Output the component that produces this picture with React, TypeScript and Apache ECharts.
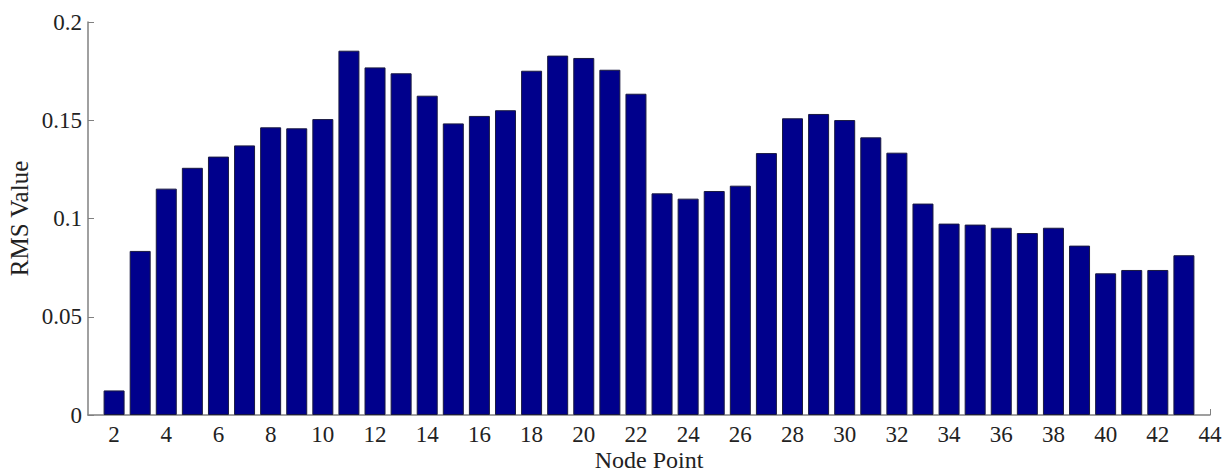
import React, { useEffect, useRef } from "react";
import * as echarts from "echarts";

const nodes = [2, 3, 4, 5, 6, 7, 8, 9, 10, 11, 12, 13, 14, 15, 16, 17, 18, 19, 20, 21, 22, 23, 24, 25, 26, 27, 28, 29, 30, 31, 32, 33, 34, 35, 36, 37, 38, 39, 40, 41, 42, 43];
const rmsValues = [0.0125, 0.0835, 0.1152, 0.1258, 0.1315, 0.1372, 0.1464, 0.1459, 0.1506, 0.1854, 0.1769, 0.1739, 0.1625, 0.1484, 0.1522, 0.1551, 0.1752, 0.1829, 0.1817, 0.1757, 0.1635, 0.1128, 0.1101, 0.114, 0.1167, 0.1333, 0.151, 0.1532, 0.1501, 0.1413, 0.1335, 0.1076, 0.0974, 0.0969, 0.0953, 0.0926, 0.0953, 0.0862, 0.0721, 0.0738, 0.0738, 0.0813];
const xTicks = [2, 4, 6, 8, 10, 12, 14, 16, 18, 20, 22, 24, 26, 28, 30, 32, 34, 36, 38, 40, 42, 44];

export default function App() {
  const ref = useRef<HTMLDivElement>(null);
  useEffect(() => {
    document.body.style.margin = "0";
    const chart = echarts.init(ref.current!, null, { renderer: "svg" });
    const font = "'Liberation Serif', 'Times New Roman', serif";
    chart.setOption({
      animation: false,
      backgroundColor: "#ffffff",
      grid: { left: 88, right: 21, top: 22, bottom: 59, containLabel: false, outerBoundsMode: "none" },
      xAxis: {
        type: "value",
        min: 1,
        max: 44,
        name: "Node Point",
        nameLocation: "middle",
        nameGap: 33,
        nameMoveOverlap: false,
        nameTextStyle: { fontFamily: font, fontSize: 24, color: "#222", lineHeight: 24 },
        axisLine: { show: true, lineStyle: { color: "#808080", width: 1.5 } },
        axisTick: { show: true, inside: true, length: 6, customValues: xTicks, lineStyle: { color: "#808080" } },
        axisLabel: { customValues: xTicks, fontFamily: font, fontSize: 23, color: "#222", margin: 8, lineHeight: 23 },
        splitLine: { show: false },
      },
      yAxis: {
        type: "value",
        min: 0,
        max: 0.2,
        interval: 0.05,
        name: "RMS Value",
        nameLocation: "middle",
        nameGap: 56,
        nameMoveOverlap: false,
        nameTextStyle: { fontFamily: font, fontSize: 25, color: "#222" },
        axisLine: { show: true, lineStyle: { color: "#808080", width: 1.5 } },
        axisTick: { show: true, inside: true, length: 6, lineStyle: { color: "#808080" } },
        axisLabel: { fontFamily: font, fontSize: 23, color: "#222", margin: 6 },
        splitLine: { show: false },
      },
      series: [
        {
          type: "bar",
          data: nodes.map((n, i) => [n, rmsValues[i]]),
          barWidth: 21,
          itemStyle: { color: "#00008C", borderColor: "#1a1a40", borderWidth: 1 },
        },
      ],
    });
    return () => chart.dispose();
  }, []);
  return <div ref={ref} style={{ width: 1231, height: 474 }} />;
}
